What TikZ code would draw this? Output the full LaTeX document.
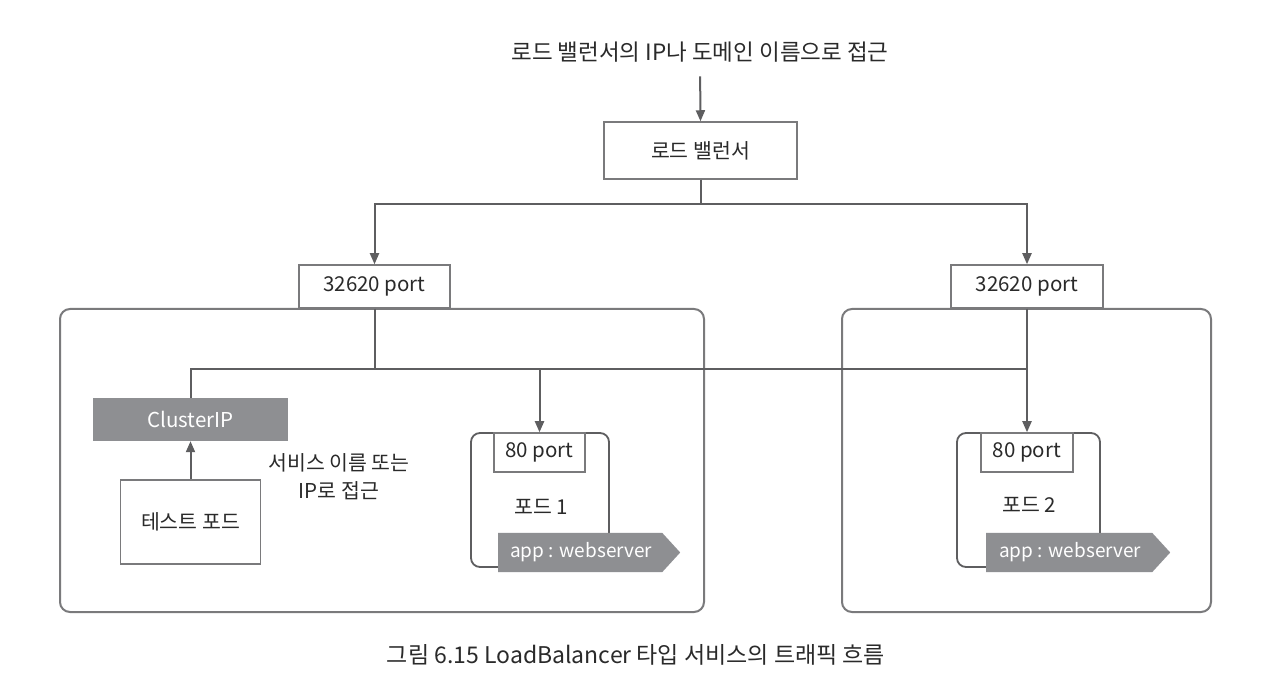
\documentclass[tikz,border=0pt]{standalone}
\usepackage{fontspec}
\setmainfont{Noto Sans CJK KR}
\usetikzlibrary{arrows.meta,shapes.symbols}
\definecolor{linec}{HTML}{5E5E60}
\definecolor{boxc}{HTML}{7A7A7C}
\definecolor{fillg}{HTML}{8E8F92}
\definecolor{txt}{HTML}{2A2A2A}
\begin{document}
\begin{tikzpicture}[x=1pt,y=-1pt,
  conn/.style={draw=linec,line width=2pt},
  arr/.style={conn,-{Triangle[length=11pt,width=9pt]}},
  plainbox/.style={draw=boxc,line width=1.5pt,fill=white,inner sep=0pt,font=\fontsize{20.5}{24}\selectfont,text=txt},
  clusterbox/.style={draw=boxc,line width=2pt,rounded corners=10pt},
  podbox/.style={draw=linec,line width=1.8pt,rounded corners=9pt,fill=white},
  graybox/.style={fill=fillg,inner sep=0pt,text=white,font=\fontsize{20.5}{24}\selectfont},
  tag/.style={signal,signal to=east,signal pointer angle=95,fill=fillg,text=white,inner sep=0pt,anchor=west,font=\fontsize{19}{22}\selectfont},
  lbl/.style={text=txt,font=\fontsize{20.5}{24}\selectfont,inner sep=0pt}]
\useasboundingbox (0,0) rectangle (1262,684);
\fill[white] (0,0) rectangle (1262,684);

% clusters
\draw[clusterbox] (60,309) rectangle (704,612);
\draw[clusterbox] (842,309) rectangle (1211,612);

% top
\node[lbl,font=\fontsize{22.5}{26}\selectfont] (title) at (700,52) {로드 밸런서의 IP나 도메인 이름으로 접근};
\node[plainbox,minimum width=193pt,minimum height=57pt] (lb) at (700.5,150.5) {로드 밸런서};

% ports
\node[plainbox,minimum width=151pt,minimum height=43pt] (portL) at (374.5,286.5) {32620 port};
\node[plainbox,minimum width=152pt,minimum height=43pt] (portR) at (1027,286.5) {32620 port};

% left cluster contents
\node[graybox,minimum width=195pt,minimum height=43pt] (ci) at (190.5,419.5) {ClusterIP};
\node[plainbox,minimum width=140pt,minimum height=84pt] (test) at (190.5,522) {테스트 포드};
\node[lbl,align=center] (note) at (339,477) {서비스 이름 또는\\[4pt]IP로 접근};

% pod 1
\draw[podbox] (471,433) rectangle (609,567);
\node[plainbox,minimum width=91pt,minimum height=39pt] (p1port) at (539.5,452.5) {80 port};
\node[lbl] (p1) at (541,507) {포드 1};
\node[tag,minimum width=182pt,minimum height=39pt] (t1) at (498,552.5) {\hspace*{6pt}app : webserver\hspace*{4pt}};

% pod 2
\draw[podbox] (957,433) rectangle (1100,567);
\node[plainbox,minimum width=92pt,minimum height=39pt] (p2port) at (1027,452.5) {80 port};
\node[lbl] (p2) at (1029,505) {포드 2};
\node[tag,minimum width=184pt,minimum height=39pt] (t2) at (986,552.5) {\hspace*{6pt}app : webserver\hspace*{4pt}};

% connectors
\coordinate (bus) at (1027,369);
\draw[arr,shorten <=14pt] (title.south) -- (lb.north);
\draw[arr] (lb.south) -- ++(0,24) -| (portL.north);
\draw[arr] (lb.south) -- ++(0,24) -| (portR.north);
\draw[conn] (portL.south) -- (portL.south |- bus);
\draw[conn] (ci.north) |- (bus);
\draw[arr] (p1port.north |- bus) -- (p1port.north);
\draw[arr] (portR.south) -- (p2port.north);
\draw[arr] (test.north) -- (ci.south);

% caption
\node[text=txt,font=\fontsize{23}{26}\selectfont,inner sep=0pt] (cap) at (636,655) {그림 6.15 LoadBalancer 타입 서비스의 트래픽 흐름};
\end{tikzpicture}
\end{document}
